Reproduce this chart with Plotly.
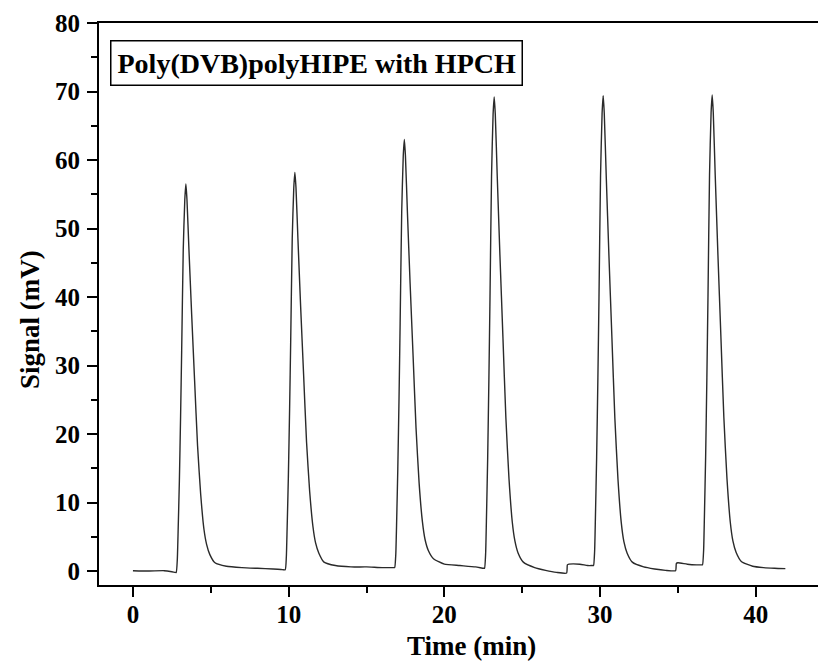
import plotly.graph_objects as go

# Chromatogram trace (time in min, signal in mV)
time_min = [
    0.0, 1.0, 2.0, 2.5, 2.72,
    2.78, 2.85, 2.90, 2.98, 3.06, 3.13, 3.23, 3.33, 3.40, 3.47, 3.595, 3.77, 3.96, 4.15, 4.35, 4.56, 4.73, 4.94, 5.27,
    6.0, 7.0, 8.0, 9.0, 9.6,
    9.78, 9.85, 9.90, 9.98, 10.06, 10.13, 10.23, 10.33, 10.40, 10.47, 10.595, 10.77, 10.96, 11.15, 11.35, 11.56, 11.73, 11.94, 12.27,
    13.0, 14.0, 15.0, 16.0, 16.75,
    16.81, 16.88, 16.93, 17.01, 17.09, 17.16, 17.26, 17.36, 17.43, 17.50, 17.625, 17.80, 17.99, 18.18, 18.38, 18.59, 18.76, 18.97, 19.30,
    20.0, 21.0, 22.0, 22.52,
    22.58, 22.65, 22.70, 22.78, 22.86, 22.93, 23.03, 23.13, 23.20, 23.27, 23.395, 23.57, 23.76, 23.95, 24.15, 24.36, 24.53, 24.74, 25.07,
    25.8, 26.5, 27.2, 27.85, 27.90, 28.0, 28.7, 29.2, 29.52,
    29.58, 29.65, 29.70, 29.78, 29.86, 29.93, 30.03, 30.13, 30.20, 30.27, 30.395, 30.57, 30.76, 30.95, 31.15, 31.36, 31.53, 31.74, 32.07,
    32.8, 33.5, 34.2, 34.85, 34.90, 35.0, 35.6, 36.2, 36.52,
    36.58, 36.65, 36.70, 36.78, 36.86, 36.93, 37.03, 37.13, 37.20, 37.27, 37.395, 37.57, 37.76, 37.95, 38.15, 38.36, 38.53, 38.74, 39.07,
    39.8, 40.5, 41.2, 41.9,
]
signal_mv = [
    0.05, 0.0, 0.05, -0.1, -0.2,
    -0.2, 1.7, 5.7, 13.0, 22.6, 32.2, 46.9, 54.2, 56.5, 54.2, 47.0, 37.5, 27.8, 18.3, 11.2, 6.1, 3.9, 2.4, 1.2,
    0.7, 0.5, 0.4, 0.3, 0.2,
    0.2, 2.0, 6.1, 13.6, 23.5, 33.4, 48.5, 56.0, 58.2, 56.0, 48.5, 38.6, 28.7, 18.8, 11.6, 6.5, 4.1, 2.6, 1.3,
    0.8, 0.6, 0.6, 0.5, 0.5,
    0.5, 2.4, 6.7, 14.9, 25.4, 36.2, 52.4, 60.6, 63.0, 60.6, 52.5, 42.0, 31.5, 20.9, 12.8, 7.2, 4.6, 3.0, 1.8,
    1.0, 0.8, 0.6, 0.4,
    0.4, 2.5, 7.3, 16.3, 28.0, 39.7, 57.7, 66.7, 69.2, 66.7, 57.7, 46.0, 34.2, 22.4, 13.5, 7.2, 4.4, 2.6, 1.3,
    0.5, 0.1, -0.2, -0.3, 0.9, 1.0, 1.0, 0.8, 0.8,
    0.8, 2.9, 7.7, 16.6, 28.2, 39.8, 57.7, 66.8, 69.4, 66.8, 57.7, 46.0, 34.1, 22.3, 13.4, 7.1, 4.3, 2.6, 1.3,
    0.6, 0.3, 0.1, 0.05, 1.1, 1.2, 1.0, 0.9, 0.9,
    0.9, 3.0, 7.8, 16.7, 28.3, 39.9, 57.8, 66.9, 69.5, 66.9, 57.8, 46.1, 34.2, 22.4, 13.5, 7.2, 4.4, 2.7, 1.4,
    0.7, 0.5, 0.4, 0.35,
]

x_ticks = [0, 10, 20, 30, 40]
y_ticks = [0, 10, 20, 30, 40, 50, 60, 70, 80]
x_title = "Time (min)"
y_title = "Signal (mV)"
box_label = "Poly(DVB)polyHIPE with HPCH"

FONT = "Liberation Serif"
OFF = 8  # page body margin
W, H = 826 - OFF, 665 - OFF
ML, MR, MT, MB = 99 - OFF, 0, 23 - OFF, 665 - 585
pw, ph = W - ML - MR, H - MT - MB


def px(xp):
    return (xp - OFF - ML) / pw


def py(yp):
    return (MT + ph - (yp - OFF)) / ph


fig = go.Figure()
fig.add_trace(go.Scatter(
    x=time_min, y=signal_mv, mode="lines",
    line=dict(color="#2a2a2a", width=1.4, shape="spline", smoothing=0.5),
    showlegend=False, hoverinfo="skip",
))

axis_common = dict(
    showline=True, linecolor="black", linewidth=2.2,
    ticks="outside", tickcolor="black", tickwidth=2, ticklen=10,
    showgrid=False, zeroline=False, automargin=False,
    tickfont=dict(family=FONT, size=25, color="black", weight="bold"),
)

fig.update_layout(
    width=W, height=H,
    margin=dict(l=ML, r=MR, t=MT, b=MB),
    paper_bgcolor="white", plot_bgcolor="white",
    xaxis=dict(
        range=[-2.18, 44.51], tickvals=x_ticks, ticktext=[str(v) for v in x_ticks],
        mirror=True, ticklabelstandoff=-4,
        minor=dict(dtick=5, tick0=0, ticks="outside", ticklen=6, tickwidth=2, tickcolor="black"),
        **axis_common,
    ),
    yaxis=dict(
        range=[-2.04, 80], tickvals=y_ticks, ticktext=[str(v) for v in y_ticks],
        mirror=False, ticklabelstandoff=2,
        minor=dict(dtick=5, tick0=0, ticks="outside", ticklen=6, tickwidth=2, tickcolor="black"),
        **axis_common,
    ),
)

fig.add_annotation(
    text=x_title, xref="paper", yref="paper",
    x=px(472), y=py(646), xanchor="center", yanchor="middle",
    showarrow=False, font=dict(family=FONT, size=27, color="black", weight="bold"),
)
fig.add_annotation(
    text=y_title, xref="paper", yref="paper", textangle=-90,
    x=px(30), y=py(320), xanchor="center", yanchor="middle",
    showarrow=False, font=dict(family=FONT, size=27, color="black", weight="bold"),
)
fig.add_annotation(
    text=box_label, xref="paper", yref="paper",
    x=px(110), y=py(40), xanchor="left", yanchor="top",
    showarrow=False, bordercolor="black", borderwidth=1.5, borderpad=6, bgcolor="white",
    font=dict(family=FONT, size=28, color="black", weight="bold"),
)

fig.write_html("out.html")
